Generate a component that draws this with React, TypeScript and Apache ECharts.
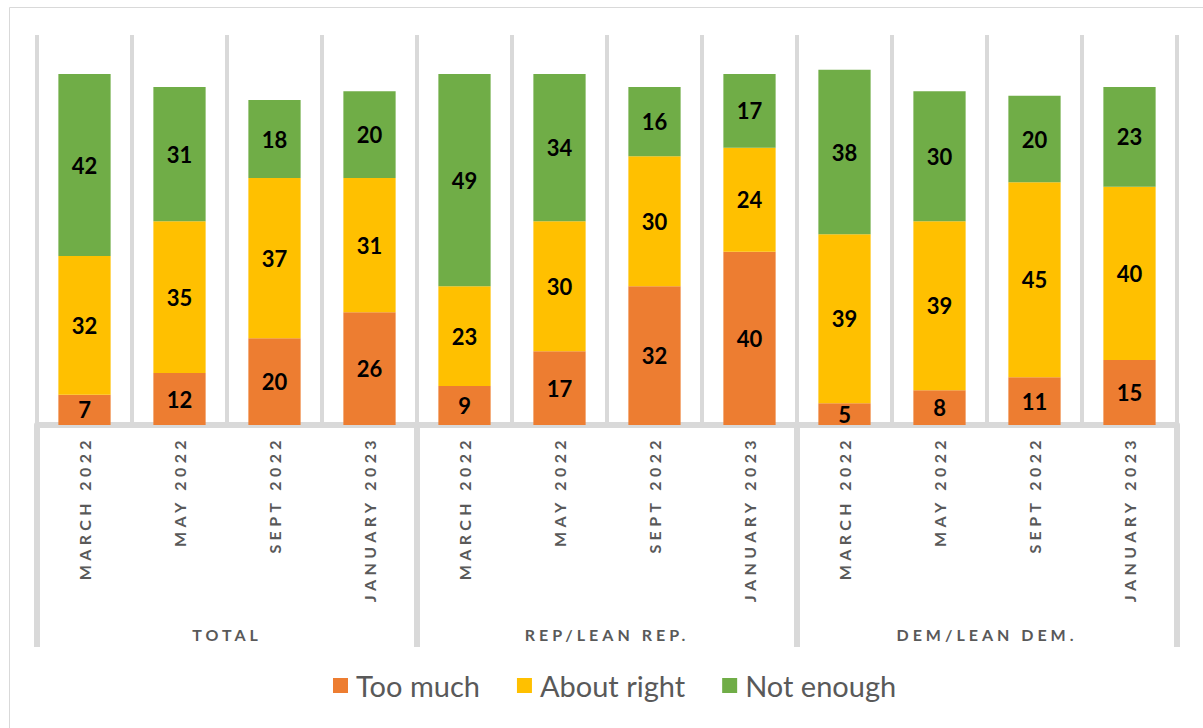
import React, { useEffect, useRef } from "react";
import * as echarts from "echarts";

const categories = [
  "MARCH 2022", "MAY 2022", "SEPT 2022", "JANUARY 2023",
  "MARCH 2022", "MAY 2022", "SEPT 2022", "JANUARY 2023",
  "MARCH 2022", "MAY 2022", "SEPT 2022", "JANUARY 2023",
];
const groups = ["TOTAL", "REP/LEAN REP.", "DEM/LEAN DEM."];
const seriesNames = ["Too much", "About right", "Not enough"];
const tooMuch = [7, 12, 20, 26, 9, 17, 32, 40, 5, 8, 11, 15];
const aboutRight = [32, 35, 37, 31, 23, 30, 30, 24, 39, 39, 45, 40];
const notEnough = [42, 31, 18, 20, 49, 34, 16, 17, 38, 30, 20, 23];
const colors = ["#ED7D31", "#FFC000", "#70AD47"];

export default function App() {
  const ref = useRef<HTMLDivElement>(null);
  useEffect(() => {
    if (!ref.current) return;
    const chart = echarts.init(ref.current, null, { renderer: "svg" });
    const font = "Lato, 'Open Sans', sans-serif";
    const values = [tooMuch, aboutRight, notEnough];
    chart.setOption({
      animation: false,
      textStyle: { fontFamily: font },
      graphic: [
        {
          type: "rect",
          silent: true,
          shape: { x: 9.5, y: 7.5, width: 1220, height: 760 },
          style: { fill: "none", stroke: "#d9d9d9", lineWidth: 1 },
        },
      ],
      legend: {
        top: 671,
        left: 333,
        padding: 0,
        itemWidth: 15,
        itemHeight: 15,
        itemGap: 37,
        icon: "rect",
        data: seriesNames,
        textStyle: { fontSize: 29, color: "#595959", fontFamily: font, padding: [0, 0, 0, 3] },
      },
      grid: { left: 37, right: 26, top: 35, bottom: 303 },
      xAxis: [
        {
          type: "category",
          data: categories,
          position: "bottom",
          axisLine: { show: true, lineStyle: { color: "#d9d9d9", width: 6 } },
          axisTick: { show: false },
          splitLine: { show: true, interval: 0, lineStyle: { color: "#d9d9d9", width: 4 } },
          axisLabel: {
            interval: 0,
            rotate: 90,
            margin: 11,
            fontSize: 16,
            fontWeight: "bold",
            color: "#595959",
            fontFamily: font,
          },
        },
        {
          type: "category",
          data: groups,
          position: "bottom",
          offset: 222,
          axisLine: { show: false },
          axisTick: {
            show: true,
            inside: true,
            length: 222,
            interval: 0,
            lineStyle: { color: "#d9d9d9", width: 6 },
          },
          splitLine: { show: false },
          axisLabel: {
            inside: true,
            margin: 5,
            fontSize: 16,
            fontWeight: "bold",
            color: "#595959",
            fontFamily: font,
          },
        },
      ],
      yAxis: { type: "value", min: 0, max: 90, show: false, splitLine: { show: false } },
      series: seriesNames.map((name, i) => ({
        name,
        type: "bar",
        stack: "total",
        xAxisIndex: 0,
        barWidth: "55%",
        itemStyle: { color: colors[i] },
        label: {
          show: true,
          position: "inside",
          color: "#000",
          fontWeight: "bold",
          fontSize: 22,
          fontFamily: font,
        },
        data: values[i],
      })),
    });

    const applySpacing = () => {
      const texts = ref.current?.querySelectorAll("text");
      if (!texts) return;
      texts.forEach((t) => {
        const s = t.textContent || "";
        if (categories.includes(s)) t.setAttribute("letter-spacing", "4.4");
        else if (groups.includes(s)) t.setAttribute("letter-spacing", "4");
      });
    };
    applySpacing();
    chart.on("finished", applySpacing);
    const timer = setTimeout(applySpacing, 50);
    return () => {
      clearTimeout(timer);
      chart.dispose();
    };
  }, []);
  return (
    <div
      ref={ref}
      style={{ position: "fixed", left: 0, top: 0, width: 1203, height: 728, background: "#fff" }}
    />
  );
}
